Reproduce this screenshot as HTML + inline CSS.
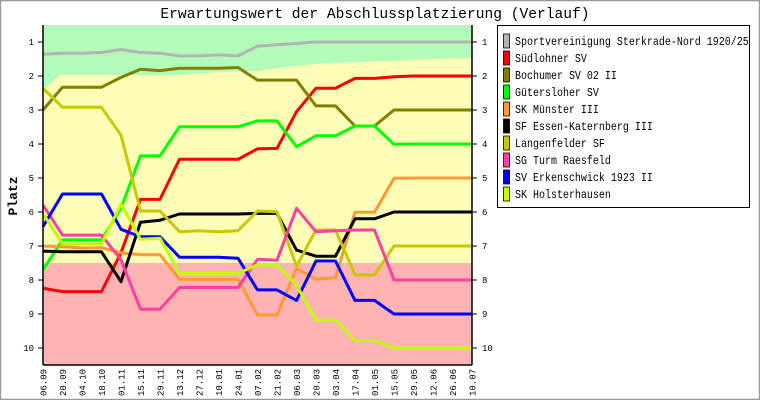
<!DOCTYPE html>
<html><head><meta charset="utf-8"><style>
html,body{margin:0;padding:0;background:#fff}
svg{display:block}
text{font-family:"Liberation Mono","DejaVu Sans Mono",monospace}
</style></head><body>
<svg id="c" width="760" height="400" xmlns="http://www.w3.org/2000/svg">
<rect x="0.5" y="0.5" width="759" height="399" fill="#fff" stroke="#999" stroke-width="1.5"/>
<text x="375" y="18" font-size="14.6" text-anchor="middle">Erwartungswert der Abschlussplatzierung (Verlauf)</text>
<rect x="43" y="25" width="429" height="340" fill="#fdfdb8"/>
<polygon fill="#b3fbb8" points="43,25 472,25 472,58 433,59 394,61 355,62 316,64 296,66 277,68 257,71 218,72 180,75 60,75 43,90"/>
<rect x="43" y="263" width="429" height="102" fill="#ffb3b3"/>
<g id="lines" fill="none" stroke-width="3" stroke-linejoin="round"></g>
<line x1="43" y1="25" x2="43" y2="365" stroke="#000" stroke-width="1.5"/>
<line x1="472" y1="25" x2="472" y2="365" stroke="#000" stroke-width="1.5"/>
<line x1="43" y1="365" x2="472" y2="365" stroke="#000" stroke-width="1.5"/>
<g id="axes" font-size="9"></g>
<text transform="translate(17,196) rotate(-90)" font-size="13" font-weight="bold" text-anchor="middle">Platz</text>
<rect x="497.5" y="25.5" width="252" height="182" fill="#fff" stroke="#000"/>
<g id="leg" font-size="10"></g>
</svg>
<script>
var X=function(i){return 43+19.5*i},Y=function(v){return 42+(v-1)*34};
var S=[
["Sportvereinigung Sterkrade-Nord 1920/25","#b4b4b4",[1.36,1.33,1.33,1.31,1.22,1.31,1.33,1.41,1.41,1.38,1.41,1.12,1.08,1.04,1,1,1,1,1,1,1,1,1]],
["Südlohner SV","#ff0000",[8.24,8.34,8.34,8.34,7.2,5.63,5.63,4.45,4.45,4.45,4.45,4.14,4.13,3.05,2.36,2.36,2.07,2.07,2.02,2,2,2,2]],
["Bochumer SV 02 II","#808000",[3,2.33,2.33,2.33,2.04,1.8,1.84,1.77,1.77,1.77,1.75,2.12,2.12,2.12,2.88,2.88,3.47,3.47,3,3,3,3,3]],
["Gütersloher SV","#00ff00",[7.7,6.82,6.82,6.82,5.89,4.35,4.35,3.49,3.49,3.49,3.49,3.32,3.32,4.08,3.76,3.76,3.47,3.47,4.01,4,4,4,4]],
["SK Münster III","#ff9933",[7,7.02,7.06,7.05,7.2,7.26,7.26,7.98,7.98,7.98,7.98,9.03,9.03,7.66,7.98,7.93,6.01,6.01,5.01,5,5,5,5]],
["SF Essen-Katernberg III","#000000",[7.15,7.17,7.17,7.17,8.05,6.3,6.24,6.06,6.06,6.06,6.06,6.04,6.04,7.12,7.3,7.3,6.2,6.2,6,6,6,6,6]],
["Langenfelder SF","#c8c800",[2.36,2.92,2.92,2.92,3.74,5.97,5.97,6.58,6.55,6.58,6.55,5.97,5.99,7.6,6.53,6.53,7.85,7.85,7,7,7,7,7]],
["SG Turm Raesfeld","#ff40a0",[5.8,6.68,6.68,6.68,7.41,8.86,8.86,8.22,8.22,8.22,8.22,7.39,7.42,5.89,6.58,6.55,6.53,6.53,8,8,8,8,8]],
["SV Erkenschwick 1923 II","#0000ff",[6.43,5.47,5.47,5.47,6.51,6.73,6.73,7.33,7.33,7.33,7.36,8.29,8.29,8.6,7.44,7.44,8.6,8.6,9,9,9,9,9]],
["SK Holsterhausen","#c0ff00",[6.04,6.94,6.94,6.94,5.77,6.8,6.77,7.8,7.8,7.8,7.8,7.56,7.56,8.15,9.18,9.18,9.78,9.78,10,10,10,10,10]]];
var NS="http://www.w3.org/2000/svg";
function el(p,t,a,tx){var e=document.createElementNS(NS,t);for(var k in a)e.setAttribute(k,a[k]);if(tx!=null)e.textContent=tx;p.appendChild(e);return e}
var L=document.getElementById("lines"),A=document.getElementById("axes"),G=document.getElementById("leg");
S.forEach(function(s,k){
 el(L,"polyline",{points:s[2].map(function(v,i){return X(i).toFixed(1)+","+Y(v).toFixed(1)}).join(" "),stroke:s[1]});
 var y=34+k*17;
 el(G,"rect",{x:503.5,y:y,width:6,height:14,fill:s[1],stroke:"#000","stroke-width":0.8});
 el(G,"text",{transform:"translate(515,"+(y+11)+") scale(1,1.2)"},s[0]);
});
for(var v=1;v<=10;v++){var y=Y(v);
 el(A,"line",{x1:38,y1:y,x2:43,y2:y,stroke:"#000"});
 el(A,"line",{x1:472,y1:y,x2:477,y2:y,stroke:"#000"});
 el(A,"text",{x:34,y:y+3,"text-anchor":"end"},v);
 el(A,"text",{x:482,y:y+3},v);}
var D="06.09 20.09 04.10 18.10 01.11 15.11 29.11 13.12 27.12 10.01 24.01 07.02 21.02 06.03 20.03 03.04 17.04 01.05 15.05 29.05 12.06 26.06 10.07".split(" ");
D.forEach(function(d,i){el(A,"text",{transform:"translate("+(X(i)+3.5)+",396) rotate(-90)"},d)});
</script>
</body></html>
